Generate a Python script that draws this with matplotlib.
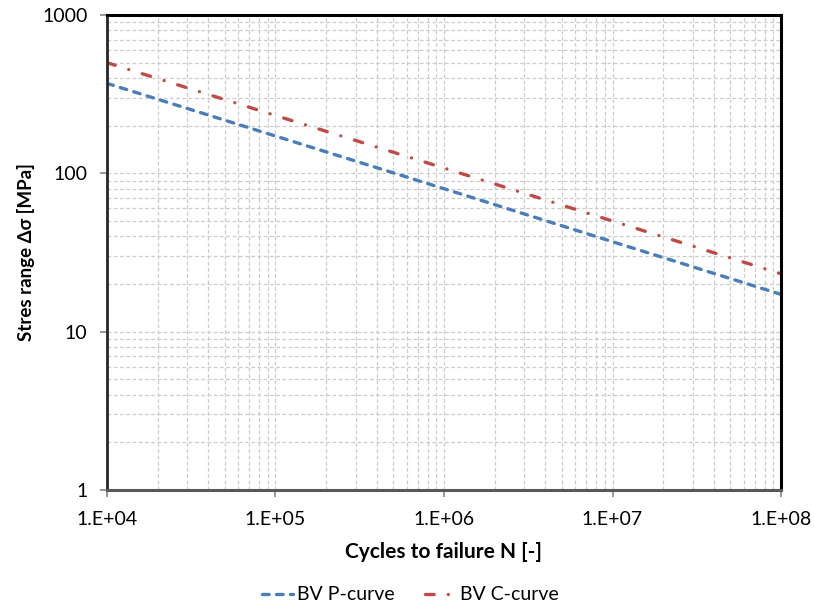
import math
import matplotlib
matplotlib.use("Agg")
import matplotlib.pyplot as plt
from matplotlib.ticker import LogLocator, FuncFormatter, NullFormatter
from matplotlib.lines import Line2D

plt.rcParams['font.family'] = ['Lato', 'DejaVu Sans']

# S-N design curves (stress range vs cycles to failure)
cycles = [1e4, 1e5, 1e6, 1e7, 1e8]
p_curve = [370, 172, 80, 37, 17.2]
c_curve = [500, 232, 108, 50, 23.2]
series_labels = ["BV P-curve", "BV C-curve"]

BLUE = "#4a7ebb"
RED = "#be4b48"
P_STYLE = (0, (2.0, 2.2))
C_STYLE = (0, (2.6, 4.25, 0.01, 4.25))
LW = 2.4

fig = plt.figure(figsize=(8.14, 6.10), dpi=100)
ax = fig.add_axes([0.1314, 0.1967, 0.8281, 0.7787])

ax.plot(cycles, p_curve, color=BLUE, lw=LW, linestyle=P_STYLE, dash_capstyle="round")
ax.plot(cycles, c_curve, color=RED, lw=LW, linestyle=C_STYLE, dash_capstyle="round")

ax.set_xscale("log")
ax.set_yscale("log")
ax.set_xlim(1e4, 1e8)
ax.set_ylim(1, 1000)

ax.xaxis.set_major_locator(LogLocator(base=10, numticks=10))
ax.yaxis.set_major_locator(LogLocator(base=10, numticks=10))
ax.xaxis.set_minor_locator(LogLocator(base=10, subs=range(2, 10), numticks=20))
ax.yaxis.set_minor_locator(LogLocator(base=10, subs=range(2, 10), numticks=20))
ax.xaxis.set_minor_formatter(NullFormatter())
ax.yaxis.set_minor_formatter(NullFormatter())


def sci_fmt(v, pos):
    return "1.E+%02d" % int(round(math.log10(v)))


ax.xaxis.set_major_formatter(FuncFormatter(sci_fmt))
ax.yaxis.set_major_formatter(FuncFormatter(lambda v, p: "%d" % round(v)))

ax.grid(True, which="both", color="#cccccc", linestyle=(0, (3, 2)), lw=0.9)
ax.set_axisbelow(True)

ax.tick_params(which="major", direction="out", length=5, width=1.2, color="#868686",
               labelsize=14)
ax.tick_params(axis="x", which="major", pad=10)
ax.tick_params(axis="y", which="major", pad=9)
ax.tick_params(which="minor", length=0)

for side in ("top", "right"):
    ax.spines[side].set_color("black")
    ax.spines[side].set_linewidth(2.2)
ax.spines["left"].set_color("#262626")
ax.spines["left"].set_linewidth(2.0)
ax.spines["bottom"].set_color("#595959")
ax.spines["bottom"].set_linewidth(2.2)

ax.set_xlabel("Cycles to failure N [-]", fontsize=15, fontweight="bold", labelpad=10)
ax.set_ylabel("Stres range Δσ [MPa]", fontsize=13.5, fontweight="bold", labelpad=5)

handles = [
    Line2D([], [], color=BLUE, lw=LW, linestyle=P_STYLE, dash_capstyle="round"),
    Line2D([], [], color=RED, lw=LW, linestyle=C_STYLE, dash_capstyle="round"),
]
fig.legend(handles, series_labels, loc="center", bbox_to_anchor=(0.504, 0.0246),
           ncol=2, frameon=False, fontsize=14, handlelength=1.6,
           handletextpad=0.2, columnspacing=1.6)

fig.savefig("out.png", dpi=100)
